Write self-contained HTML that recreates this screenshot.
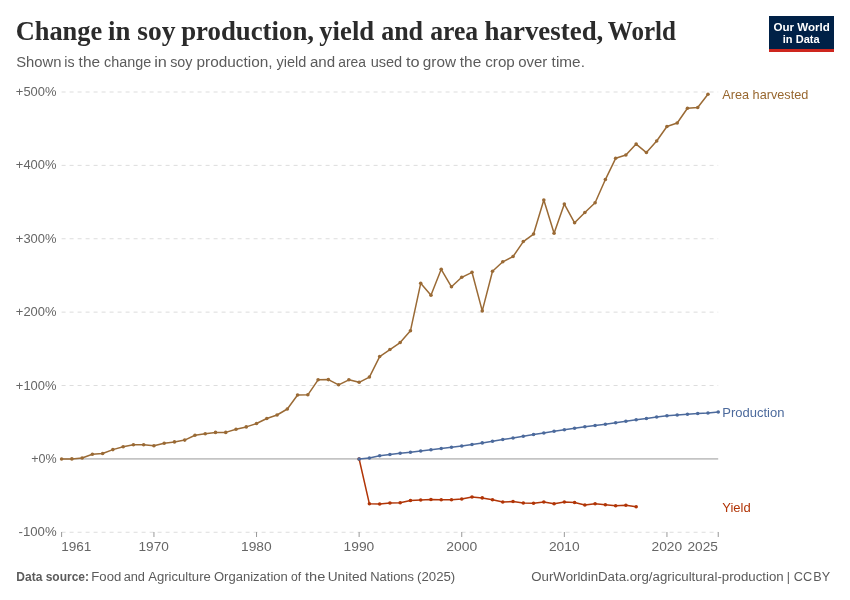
<!DOCTYPE html>
<html><head><meta charset="utf-8"><style>
html,body{margin:0;padding:0;background:#fff;}
body{width:850px;height:600px;overflow:hidden;position:relative;}
svg{position:absolute;left:0;top:0;will-change:transform;}
.sans{font-family:"Liberation Sans",sans-serif;}
.serif{font-family:"Liberation Serif",serif;}
</style></head><body>
<svg width="850" height="600" viewBox="0 0 850 600">
<rect width="850" height="600" fill="#fff"/>
<text class="serif" x="15.65" y="40.2" font-size="28.2" font-weight="700" fill="#2b2b2b" textLength="86.58" lengthAdjust="spacingAndGlyphs">Change</text>
<text class="serif" x="108.07" y="40.2" font-size="28.2" font-weight="700" fill="#2b2b2b" textLength="22.37" lengthAdjust="spacingAndGlyphs">in</text>
<text class="serif" x="137.19" y="40.2" font-size="28.2" font-weight="700" fill="#2b2b2b" textLength="38.24" lengthAdjust="spacingAndGlyphs">soy</text>
<text class="serif" x="181.18" y="40.2" font-size="28.2" font-weight="700" fill="#2b2b2b" textLength="132.82" lengthAdjust="spacingAndGlyphs">production,</text>
<text class="serif" x="319.28" y="40.2" font-size="28.2" font-weight="700" fill="#2b2b2b" textLength="54.90" lengthAdjust="spacingAndGlyphs">yield</text>
<text class="serif" x="381.13" y="40.2" font-size="28.2" font-weight="700" fill="#2b2b2b" textLength="41.95" lengthAdjust="spacingAndGlyphs">and</text>
<text class="serif" x="430.14" y="40.2" font-size="28.2" font-weight="700" fill="#2b2b2b" textLength="48.01" lengthAdjust="spacingAndGlyphs">area</text>
<text class="serif" x="484.56" y="40.2" font-size="28.2" font-weight="700" fill="#2b2b2b" textLength="118.81" lengthAdjust="spacingAndGlyphs">harvested,</text>
<text class="serif" x="607.80" y="40.2" font-size="28.2" font-weight="700" fill="#2b2b2b" textLength="68.14" lengthAdjust="spacingAndGlyphs">World</text>

<text class="sans" x="16.15" y="66.6" font-size="15.1" font-weight="400" fill="#5b5b5b" textLength="45.24" lengthAdjust="spacingAndGlyphs">Shown</text>
<text class="sans" x="64.36" y="66.6" font-size="15.1" font-weight="400" fill="#5b5b5b" textLength="10.28" lengthAdjust="spacingAndGlyphs">is</text>
<text class="sans" x="78.63" y="66.6" font-size="15.1" font-weight="400" fill="#5b5b5b" textLength="21.44" lengthAdjust="spacingAndGlyphs">the</text>
<text class="sans" x="104.06" y="66.6" font-size="15.1" font-weight="400" fill="#5b5b5b" textLength="47.21" lengthAdjust="spacingAndGlyphs">change</text>
<text class="sans" x="154.22" y="66.6" font-size="15.1" font-weight="400" fill="#5b5b5b" textLength="12.67" lengthAdjust="spacingAndGlyphs">in</text>
<text class="sans" x="170.13" y="66.6" font-size="15.1" font-weight="400" fill="#5b5b5b" textLength="22.27" lengthAdjust="spacingAndGlyphs">soy</text>
<text class="sans" x="196.58" y="66.6" font-size="15.1" font-weight="400" fill="#5b5b5b" textLength="76.02" lengthAdjust="spacingAndGlyphs">production,</text>
<text class="sans" x="276.50" y="66.6" font-size="15.1" font-weight="400" fill="#5b5b5b" textLength="29.81" lengthAdjust="spacingAndGlyphs">yield</text>
<text class="sans" x="309.93" y="66.6" font-size="15.1" font-weight="400" fill="#5b5b5b" textLength="25.19" lengthAdjust="spacingAndGlyphs">and</text>
<text class="sans" x="338.19" y="66.6" font-size="15.1" font-weight="400" fill="#5b5b5b" textLength="27.76" lengthAdjust="spacingAndGlyphs">area</text>
<text class="sans" x="370.63" y="66.6" font-size="15.1" font-weight="400" fill="#5b5b5b" textLength="31.60" lengthAdjust="spacingAndGlyphs">used</text>
<text class="sans" x="406.02" y="66.6" font-size="15.1" font-weight="400" fill="#5b5b5b" textLength="13.62" lengthAdjust="spacingAndGlyphs">to</text>
<text class="sans" x="422.82" y="66.6" font-size="15.1" font-weight="400" fill="#5b5b5b" textLength="33.14" lengthAdjust="spacingAndGlyphs">grow</text>
<text class="sans" x="459.83" y="66.6" font-size="15.1" font-weight="400" fill="#5b5b5b" textLength="21.44" lengthAdjust="spacingAndGlyphs">the</text>
<text class="sans" x="485.23" y="66.6" font-size="15.1" font-weight="400" fill="#5b5b5b" textLength="29.58" lengthAdjust="spacingAndGlyphs">crop</text>
<text class="sans" x="518.14" y="66.6" font-size="15.1" font-weight="400" fill="#5b5b5b" textLength="29.17" lengthAdjust="spacingAndGlyphs">over</text>
<text class="sans" x="551.63" y="66.6" font-size="15.1" font-weight="400" fill="#5b5b5b" textLength="33.28" lengthAdjust="spacingAndGlyphs">time.</text>

<g>
<rect x="769" y="16" width="65" height="36" fill="#002147"/>
<rect x="769" y="49" width="65" height="3" fill="#ce261e"/>
<text class="sans" x="773.50" y="30.8" font-size="11.5" font-weight="700" fill="#ffffff" textLength="56.38" lengthAdjust="spacingAndGlyphs">Our World</text>
<text class="sans" x="782.80" y="42.6" font-size="11.5" font-weight="700" fill="#ffffff" textLength="36.85" lengthAdjust="spacingAndGlyphs">in Data</text>

</g>
<line x1="61.6" x2="718.2" y1="92.0" y2="92.0" stroke="#dddddd" stroke-width="1" stroke-dasharray="4,4"/>
<line x1="61.6" x2="718.2" y1="165.375" y2="165.375" stroke="#dddddd" stroke-width="1" stroke-dasharray="4,4"/>
<line x1="61.6" x2="718.2" y1="238.75" y2="238.75" stroke="#dddddd" stroke-width="1" stroke-dasharray="4,4"/>
<line x1="61.6" x2="718.2" y1="312.125" y2="312.125" stroke="#dddddd" stroke-width="1" stroke-dasharray="4,4"/>
<line x1="61.6" x2="718.2" y1="385.5" y2="385.5" stroke="#dddddd" stroke-width="1" stroke-dasharray="4,4"/>
<line x1="61.6" x2="718.2" y1="532.25" y2="532.25" stroke="#dddddd" stroke-width="1" stroke-dasharray="4,4"/>

<g class="sans" font-size="13.5" fill="#666666">
<text x="15.86" y="96.00" textLength="40.64" lengthAdjust="spacingAndGlyphs">+500%</text>
<text x="15.86" y="169.38" textLength="40.64" lengthAdjust="spacingAndGlyphs">+400%</text>
<text x="15.86" y="242.75" textLength="40.64" lengthAdjust="spacingAndGlyphs">+300%</text>
<text x="15.86" y="316.12" textLength="40.64" lengthAdjust="spacingAndGlyphs">+200%</text>
<text x="15.86" y="389.50" textLength="40.64" lengthAdjust="spacingAndGlyphs">+100%</text>
<text x="31.18" y="462.88" textLength="25.44" lengthAdjust="spacingAndGlyphs">+0%</text>
<text x="18.55" y="536.25" textLength="38.06" lengthAdjust="spacingAndGlyphs">-100%</text>

</g>
<line x1="61.6" x2="718.2" y1="458.9" y2="458.9" stroke="#c4c4c4" stroke-width="1.6"/>

<line x1="61.60" x2="61.60" y1="532" y2="537" stroke="#999" stroke-width="1"/>
<line x1="153.94" x2="153.94" y1="532" y2="537" stroke="#999" stroke-width="1"/>
<line x1="256.54" x2="256.54" y1="532" y2="537" stroke="#999" stroke-width="1"/>
<line x1="359.14" x2="359.14" y1="532" y2="537" stroke="#999" stroke-width="1"/>
<line x1="461.74" x2="461.74" y1="532" y2="537" stroke="#999" stroke-width="1"/>
<line x1="564.34" x2="564.34" y1="532" y2="537" stroke="#999" stroke-width="1"/>
<line x1="666.94" x2="666.94" y1="532" y2="537" stroke="#999" stroke-width="1"/>
<line x1="718.24" x2="718.24" y1="532" y2="537" stroke="#999" stroke-width="1"/>

<g class="sans" font-size="13.5" fill="#666666">
<text x="61.19" y="550.8" textLength="30.21" lengthAdjust="spacingAndGlyphs">1961</text>
<text x="138.53" y="550.8" textLength="30.35" lengthAdjust="spacingAndGlyphs">1970</text>
<text x="240.97" y="550.8" textLength="30.67" lengthAdjust="spacingAndGlyphs">1980</text>
<text x="343.57" y="550.8" textLength="30.67" lengthAdjust="spacingAndGlyphs">1990</text>
<text x="446.20" y="550.8" textLength="30.94" lengthAdjust="spacingAndGlyphs">2000</text>
<text x="548.96" y="550.8" textLength="30.62" lengthAdjust="spacingAndGlyphs">2010</text>
<text x="651.56" y="550.8" textLength="30.62" lengthAdjust="spacingAndGlyphs">2020</text>
<text x="687.52" y="550.8" textLength="30.42" lengthAdjust="spacingAndGlyphs">2025</text>

</g>
<path d="M61.60,459.00 L71.86,458.90 L82.12,458.00 L92.38,454.20 L102.64,453.50 L112.90,449.60 L123.16,446.70 L133.42,444.80 L143.68,444.70 L153.94,445.80 L164.20,443.20 L174.46,441.90 L184.72,440.10 L194.98,435.30 L205.24,433.70 L215.50,432.40 L225.76,432.40 L236.02,429.30 L246.28,426.90 L256.54,423.50 L266.80,418.50 L277.06,415.00 L287.32,409.00 L297.58,395.00 L307.84,394.80 L318.10,379.80 L328.36,379.60 L338.62,384.80 L348.88,379.80 L359.14,382.30 L369.40,377.05 L379.66,356.55 L389.92,349.55 L400.18,342.55 L410.44,330.80 L420.70,283.30 L430.96,295.30 L441.22,269.30 L451.48,286.80 L461.74,277.30 L472.00,272.30 L482.26,310.90 L492.52,271.30 L502.78,261.80 L513.04,256.55 L523.30,241.55 L533.56,234.05 L543.82,200.05 L554.08,233.30 L564.34,204.05 L574.60,222.80 L584.86,212.55 L595.12,202.80 L605.38,179.55 L615.64,158.30 L625.90,155.05 L636.16,144.05 L646.42,152.55 L656.68,141.05 L666.94,126.55 L677.20,123.05 L687.46,108.30 L697.72,107.55 L707.98,94.30" fill="none" stroke="#9a6a35" stroke-width="1.5" stroke-linejoin="round" stroke-linecap="round"/>
<g fill="#9a6a35"><circle cx="61.60" cy="459.00" r="1.8"/><circle cx="71.86" cy="458.90" r="1.8"/><circle cx="82.12" cy="458.00" r="1.8"/><circle cx="92.38" cy="454.20" r="1.8"/><circle cx="102.64" cy="453.50" r="1.8"/><circle cx="112.90" cy="449.60" r="1.8"/><circle cx="123.16" cy="446.70" r="1.8"/><circle cx="133.42" cy="444.80" r="1.8"/><circle cx="143.68" cy="444.70" r="1.8"/><circle cx="153.94" cy="445.80" r="1.8"/><circle cx="164.20" cy="443.20" r="1.8"/><circle cx="174.46" cy="441.90" r="1.8"/><circle cx="184.72" cy="440.10" r="1.8"/><circle cx="194.98" cy="435.30" r="1.8"/><circle cx="205.24" cy="433.70" r="1.8"/><circle cx="215.50" cy="432.40" r="1.8"/><circle cx="225.76" cy="432.40" r="1.8"/><circle cx="236.02" cy="429.30" r="1.8"/><circle cx="246.28" cy="426.90" r="1.8"/><circle cx="256.54" cy="423.50" r="1.8"/><circle cx="266.80" cy="418.50" r="1.8"/><circle cx="277.06" cy="415.00" r="1.8"/><circle cx="287.32" cy="409.00" r="1.8"/><circle cx="297.58" cy="395.00" r="1.8"/><circle cx="307.84" cy="394.80" r="1.8"/><circle cx="318.10" cy="379.80" r="1.8"/><circle cx="328.36" cy="379.60" r="1.8"/><circle cx="338.62" cy="384.80" r="1.8"/><circle cx="348.88" cy="379.80" r="1.8"/><circle cx="359.14" cy="382.30" r="1.8"/><circle cx="369.40" cy="377.05" r="1.8"/><circle cx="379.66" cy="356.55" r="1.8"/><circle cx="389.92" cy="349.55" r="1.8"/><circle cx="400.18" cy="342.55" r="1.8"/><circle cx="410.44" cy="330.80" r="1.8"/><circle cx="420.70" cy="283.30" r="1.8"/><circle cx="430.96" cy="295.30" r="1.8"/><circle cx="441.22" cy="269.30" r="1.8"/><circle cx="451.48" cy="286.80" r="1.8"/><circle cx="461.74" cy="277.30" r="1.8"/><circle cx="472.00" cy="272.30" r="1.8"/><circle cx="482.26" cy="310.90" r="1.8"/><circle cx="492.52" cy="271.30" r="1.8"/><circle cx="502.78" cy="261.80" r="1.8"/><circle cx="513.04" cy="256.55" r="1.8"/><circle cx="523.30" cy="241.55" r="1.8"/><circle cx="533.56" cy="234.05" r="1.8"/><circle cx="543.82" cy="200.05" r="1.8"/><circle cx="554.08" cy="233.30" r="1.8"/><circle cx="564.34" cy="204.05" r="1.8"/><circle cx="574.60" cy="222.80" r="1.8"/><circle cx="584.86" cy="212.55" r="1.8"/><circle cx="595.12" cy="202.80" r="1.8"/><circle cx="605.38" cy="179.55" r="1.8"/><circle cx="615.64" cy="158.30" r="1.8"/><circle cx="625.90" cy="155.05" r="1.8"/><circle cx="636.16" cy="144.05" r="1.8"/><circle cx="646.42" cy="152.55" r="1.8"/><circle cx="656.68" cy="141.05" r="1.8"/><circle cx="666.94" cy="126.55" r="1.8"/><circle cx="677.20" cy="123.05" r="1.8"/><circle cx="687.46" cy="108.30" r="1.8"/><circle cx="697.72" cy="107.55" r="1.8"/><circle cx="707.98" cy="94.30" r="1.8"/></g>

<path d="M359.14,459.00 L369.40,503.80 L379.66,504.05 L389.92,503.05 L400.18,502.80 L410.44,500.55 L420.70,500.05 L430.96,499.55 L441.22,499.80 L451.48,499.80 L461.74,499.05 L472.00,497.05 L482.26,497.90 L492.52,499.80 L502.78,502.05 L513.04,501.55 L523.30,503.05 L533.56,503.30 L543.82,502.05 L554.08,503.80 L564.34,502.05 L574.60,502.55 L584.86,505.05 L595.12,503.80 L605.38,504.70 L615.64,505.80 L625.90,505.30 L636.16,506.80" fill="none" stroke="#b13507" stroke-width="1.5" stroke-linejoin="round" stroke-linecap="round"/>
<g fill="#b13507"><circle cx="359.14" cy="459.00" r="1.8"/><circle cx="369.40" cy="503.80" r="1.8"/><circle cx="379.66" cy="504.05" r="1.8"/><circle cx="389.92" cy="503.05" r="1.8"/><circle cx="400.18" cy="502.80" r="1.8"/><circle cx="410.44" cy="500.55" r="1.8"/><circle cx="420.70" cy="500.05" r="1.8"/><circle cx="430.96" cy="499.55" r="1.8"/><circle cx="441.22" cy="499.80" r="1.8"/><circle cx="451.48" cy="499.80" r="1.8"/><circle cx="461.74" cy="499.05" r="1.8"/><circle cx="472.00" cy="497.05" r="1.8"/><circle cx="482.26" cy="497.90" r="1.8"/><circle cx="492.52" cy="499.80" r="1.8"/><circle cx="502.78" cy="502.05" r="1.8"/><circle cx="513.04" cy="501.55" r="1.8"/><circle cx="523.30" cy="503.05" r="1.8"/><circle cx="533.56" cy="503.30" r="1.8"/><circle cx="543.82" cy="502.05" r="1.8"/><circle cx="554.08" cy="503.80" r="1.8"/><circle cx="564.34" cy="502.05" r="1.8"/><circle cx="574.60" cy="502.55" r="1.8"/><circle cx="584.86" cy="505.05" r="1.8"/><circle cx="595.12" cy="503.80" r="1.8"/><circle cx="605.38" cy="504.70" r="1.8"/><circle cx="615.64" cy="505.80" r="1.8"/><circle cx="625.90" cy="505.30" r="1.8"/><circle cx="636.16" cy="506.80" r="1.8"/></g>

<path d="M359.14,459.00 L369.40,458.05 L379.66,455.80 L389.92,454.55 L400.18,453.30 L410.44,452.30 L420.70,451.05 L430.96,449.80 L441.22,448.55 L451.48,447.30 L461.74,446.05 L472.00,444.55 L482.26,442.90 L492.52,441.30 L502.78,439.55 L513.04,438.05 L523.30,436.30 L533.56,434.55 L543.82,433.05 L554.08,431.30 L564.34,429.80 L574.60,428.30 L584.86,426.80 L595.12,425.55 L605.38,424.30 L615.64,422.80 L625.90,421.30 L636.16,419.80 L646.42,418.55 L656.68,417.05 L666.94,415.80 L677.20,415.05 L687.46,414.30 L697.72,413.55 L707.98,413.05 L718.24,412.05" fill="none" stroke="#4c6a9c" stroke-width="1.5" stroke-linejoin="round" stroke-linecap="round"/>
<g fill="#4c6a9c"><circle cx="359.14" cy="459.00" r="1.8"/><circle cx="369.40" cy="458.05" r="1.8"/><circle cx="379.66" cy="455.80" r="1.8"/><circle cx="389.92" cy="454.55" r="1.8"/><circle cx="400.18" cy="453.30" r="1.8"/><circle cx="410.44" cy="452.30" r="1.8"/><circle cx="420.70" cy="451.05" r="1.8"/><circle cx="430.96" cy="449.80" r="1.8"/><circle cx="441.22" cy="448.55" r="1.8"/><circle cx="451.48" cy="447.30" r="1.8"/><circle cx="461.74" cy="446.05" r="1.8"/><circle cx="472.00" cy="444.55" r="1.8"/><circle cx="482.26" cy="442.90" r="1.8"/><circle cx="492.52" cy="441.30" r="1.8"/><circle cx="502.78" cy="439.55" r="1.8"/><circle cx="513.04" cy="438.05" r="1.8"/><circle cx="523.30" cy="436.30" r="1.8"/><circle cx="533.56" cy="434.55" r="1.8"/><circle cx="543.82" cy="433.05" r="1.8"/><circle cx="554.08" cy="431.30" r="1.8"/><circle cx="564.34" cy="429.80" r="1.8"/><circle cx="574.60" cy="428.30" r="1.8"/><circle cx="584.86" cy="426.80" r="1.8"/><circle cx="595.12" cy="425.55" r="1.8"/><circle cx="605.38" cy="424.30" r="1.8"/><circle cx="615.64" cy="422.80" r="1.8"/><circle cx="625.90" cy="421.30" r="1.8"/><circle cx="636.16" cy="419.80" r="1.8"/><circle cx="646.42" cy="418.55" r="1.8"/><circle cx="656.68" cy="417.05" r="1.8"/><circle cx="666.94" cy="415.80" r="1.8"/><circle cx="677.20" cy="415.05" r="1.8"/><circle cx="687.46" cy="414.30" r="1.8"/><circle cx="697.72" cy="413.55" r="1.8"/><circle cx="707.98" cy="413.05" r="1.8"/><circle cx="718.24" cy="412.05" r="1.8"/></g>

<g class="sans" font-size="13">
<text x="722.3" y="98.9" fill="#98672f" textLength="86" lengthAdjust="spacingAndGlyphs">Area harvested</text>
<text x="722.3" y="416.8" fill="#4c6a9c">Production</text>
<text x="722.3" y="512" fill="#b13507">Yield</text>
</g>
<text class="sans" x="16.29" y="580.5" font-size="12.3" font-weight="700" fill="#5b5b5b" textLength="72.76" lengthAdjust="spacingAndGlyphs">Data source:</text>
<text class="sans" x="91.33" y="580.5" font-size="12.3" font-weight="400" fill="#5b5b5b" textLength="29.89" lengthAdjust="spacingAndGlyphs">Food</text>
<text class="sans" x="123.68" y="580.5" font-size="12.3" font-weight="400" fill="#5b5b5b" textLength="21.31" lengthAdjust="spacingAndGlyphs">and</text>
<text class="sans" x="148.20" y="580.5" font-size="12.3" font-weight="400" fill="#5b5b5b" textLength="62.59" lengthAdjust="spacingAndGlyphs">Agriculture</text>
<text class="sans" x="213.99" y="580.5" font-size="12.3" font-weight="400" fill="#5b5b5b" textLength="73.89" lengthAdjust="spacingAndGlyphs">Organization</text>
<text class="sans" x="291.01" y="580.5" font-size="12.3" font-weight="400" fill="#5b5b5b" textLength="10.12" lengthAdjust="spacingAndGlyphs">of</text>
<text class="sans" x="305.00" y="580.5" font-size="12.3" font-weight="400" fill="#5b5b5b" textLength="20.31" lengthAdjust="spacingAndGlyphs">the</text>
<text class="sans" x="327.69" y="580.5" font-size="12.3" font-weight="400" fill="#5b5b5b" textLength="39.50" lengthAdjust="spacingAndGlyphs">United</text>
<text class="sans" x="370.15" y="580.5" font-size="12.3" font-weight="400" fill="#5b5b5b" textLength="43.92" lengthAdjust="spacingAndGlyphs">Nations</text>
<text class="sans" x="417.00" y="580.5" font-size="12.3" font-weight="400" fill="#5b5b5b" textLength="38.27" lengthAdjust="spacingAndGlyphs">(2025)</text>
<text class="sans" x="531.28" y="580.5" font-size="12.3" font-weight="400" fill="#5b5b5b" textLength="252.43" lengthAdjust="spacingAndGlyphs">OurWorldinData.org/agricultural-production</text>
<text class="sans" x="786.63" y="580.5" font-size="12.3" font-weight="400" fill="#5b5b5b" textLength="3.20" lengthAdjust="spacingAndGlyphs">|</text>
<text class="sans" x="793.71" y="580.5" font-size="12.3" font-weight="400" fill="#5b5b5b" textLength="18.41" lengthAdjust="spacingAndGlyphs">CC</text>
<text class="sans" x="813.37" y="580.5" font-size="12.3" font-weight="400" fill="#5b5b5b" textLength="16.88" lengthAdjust="spacingAndGlyphs">BY</text>

</svg>
</body></html>
